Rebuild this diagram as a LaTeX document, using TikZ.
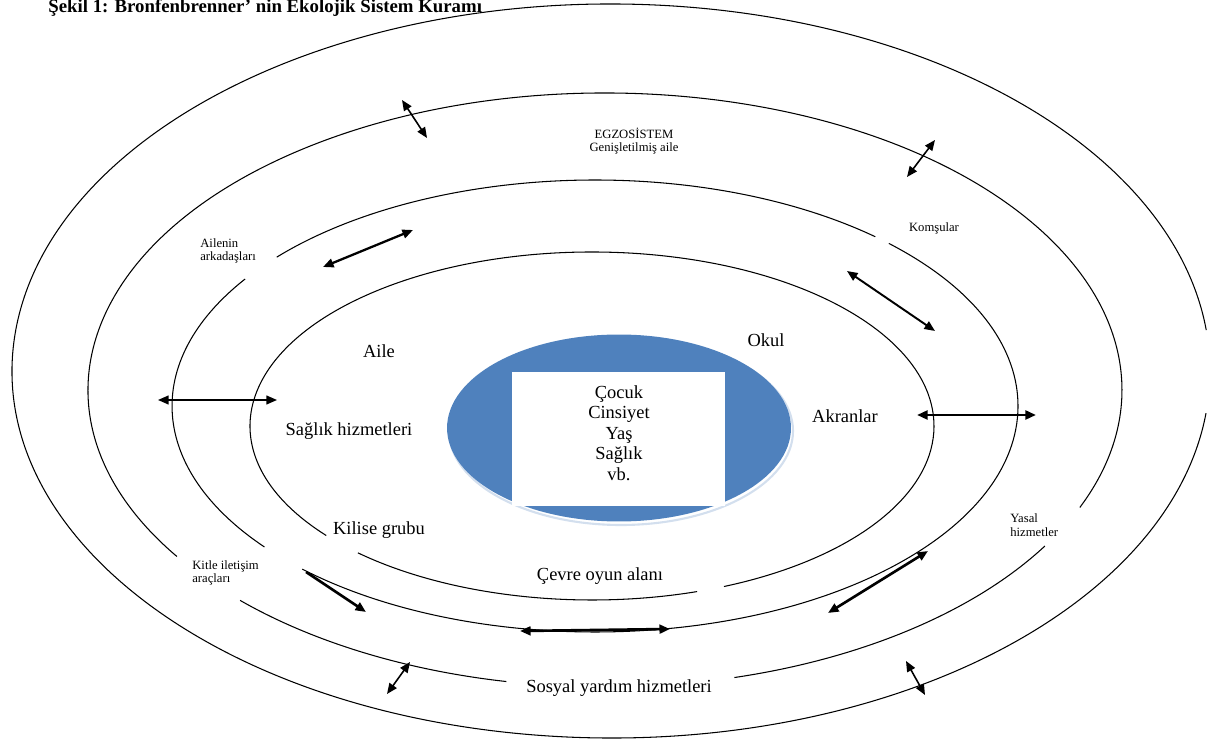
\documentclass[tikz,border=0pt]{standalone}
\usepackage{fontspec}
\setmainfont{Liberation Serif}
\usetikzlibrary{arrows.meta,shapes.geometric}
\definecolor{kidblue}{HTML}{4F81BD}

\begin{document}
\begin{tikzpicture}[x=0.02cm,y=-0.02cm,
   ring/.style={line width=0.6pt},
   lbl/.style={font=\fontsize{10.5}{11.6}\selectfont,inner sep=1pt},
   tiny/.style={font=\fontsize{7.2}{7.6}\selectfont,align=left,inner sep=0pt},
   link/.style={{Triangle[length=6pt,width=5pt]}-{Triangle[length=6pt,width=5pt]},line width=0.9pt},
   heavy/.style={link,line width=1.5pt}]
 \useasboundingbox (0,0) rectangle (1213,742);
 \clip (0,0) rectangle (1213,742);
 \node[anchor=base west,inner sep=0pt,font=\bfseries\fontsize{10.7}{12}\selectfont] (title) at (48,13)
      {Şekil 1: Bronfenbrenner' nin Ekolojik Sistem Kuramı};

 % rings, outer to inner, with their gaps
 \draw[ring] (611,371) ++(6.6:599 and 367) arc[start angle=6.6,end angle=353.6,x radius=599,y radius=367];
 \draw[ring] (605,390) ++(31.7:517 and 297) arc[start angle=31.7,end angle=75.5,x radius=517,y radius=297]
             (605,390) ++(101:517 and 297) arc[start angle=101,end angle=134.9,x radius=517,y radius=297]
             (605,390) ++(145.9:517 and 297) arc[start angle=145.9,end angle=383.3,x radius=517,y radius=297];
 \draw[ring] (595,406) ++(141.4:423 and 226) arc[start angle=141.4,end angle=214.2,x radius=423,y radius=226]
             (595,406) ++(221.2:423 and 226) arc[start angle=221.2,end angle=311.5,x radius=423,y radius=226]
             (595,406) ++(314:423 and 226) arc[start angle=314,end angle=493.8,x radius=423,y radius=226];
 \draw[ring] (592,426) ++(72.1:342 and 174) arc[start angle=72.1,end angle=133.2,x radius=342,y radius=174]
             (592,426) ++(141:342 and 174) arc[start angle=141,end angle=427.3,x radius=342,y radius=174];

 % the child in the middle
 \draw[kidblue!25,line width=1.2pt] (621,431) ellipse[x radius=172,y radius=94];
 \node[ellipse,fill=kidblue,minimum width=6.88cm,minimum height=3.74cm,inner sep=0pt] (core) at (619,428) {};
 \node[fill=white,minimum width=4.26cm,minimum height=2.68cm,inner sep=0pt] (box) at (618.5,439) {};
 \node[lbl,align=center] (child) at (619,433) {Çocuk\\Cinsiyet\\Yaş\\Sağlık\\vb.};

 % labels
 \node[lbl] (aile)   at (379,351) {Aile};
 \node[lbl] (okul)   at (766,340) {Okul};
 \node[lbl] (akran)  at (845,416) {Akranlar};
 \node[lbl] (saglik) at (349,431) {Sağlık hizmetleri};
 \node[lbl] (kilise) at (379,530) {Kilise grubu};
 \node[lbl] (cevre)  at (600,576) {Çevre oyun alanı};
 \node[lbl] (sosyal) at (619,688) {Sosyal yardım hizmetleri};
 \node[tiny,align=center] (egzo) at (634,141) {EGZOSİSTEM\\Genişletilmiş aile};
 \node[tiny] (komsu)  at (934,228) {Komşular};
 \node[tiny,anchor=west] (arkadas) at (200,251) {Ailenin\\arkadaşları};
 \node[tiny,anchor=west] (yasal)   at (1010,525) {Yasal\\hizmetler};
 \node[tiny,anchor=west] (kitle)   at (192,573) {Kitle iletişim\\araçları};

 % arrow ends
 \coordinate (p1a) at (402,100);  \coordinate (p1b) at (427,138);
 \coordinate (p2a) at (935,140);  \coordinate (p2b) at (907,177);
 \coordinate (p3a) at (413,230);  \coordinate (p3b) at (323,267);
 \coordinate (p4a) at (847,271);  \coordinate (p4b) at (935,331);
 \coordinate (p5a) at (158,400);  \coordinate (p5b) at (277,400);
 \coordinate (p6a) at (917,415);  \coordinate (p6b) at (1036,415);
 \coordinate (p7a) at (306,572);  \coordinate (p7b) at (366,612);
 \coordinate (p8a) at (520,631);  \coordinate (p8b) at (670,629);
 \coordinate (p9a) at (828,613);  \coordinate (p9b) at (928,551);
 \coordinate (p10a) at (410,662); \coordinate (p10b) at (387,694);
 \coordinate (p11a) at (906,661); \coordinate (p11b) at (925,695);

 \draw[link] (p1a) -- (p1b);
 \draw[link] (p2a) -- (p2b);
 \draw[link,line width=1.3pt] (p3a) -- (p3b);
 \draw[link,line width=1.1pt] (p4a) -- (p4b);
 \draw[link] (p5a) -- (p5b);
 \draw[heavy] (p6a) -- (p6b);
 \draw[-{Triangle[length=6pt,width=5pt]},line width=1.5pt] (p7a) -- (p7b);
 \draw[heavy] (p8a) -- (p8b);
 \draw[heavy] (p9a) -- (p9b);
 \draw[link] (p10a) -- (p10b);
 \draw[link] (p11a) -- (p11b);
\end{tikzpicture}
\end{document}
